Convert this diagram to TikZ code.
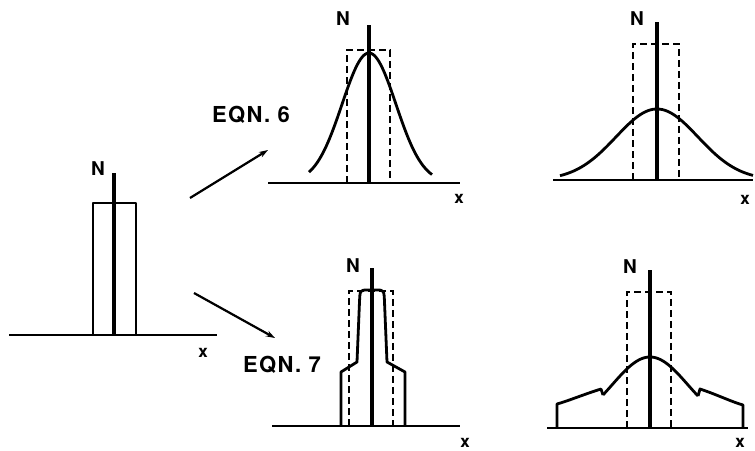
\documentclass[tikz,border=0pt]{standalone}
\usepackage{fontspec}
\setmainfont{TeX Gyre Heros}
\usepackage{tikz}
\usetikzlibrary{arrows.meta}

\tikzset{
    axisline/.style={line width=3.2pt},
    baseline/.style={line width=2.6pt},
    boxline/.style={line width=2.6pt,dash pattern=on 7pt off 4pt},
    curveline/.style={line width=2.8pt,line join=round},
    lbl/.style={font=\fontsize{19}{19}\selectfont\bfseries,inner sep=0pt},
    xlbl/.style={font=\fontsize{17}{17}\selectfont\bfseries,inner sep=0pt},
    eqn/.style={font=\fontsize{22}{22}\selectfont\bfseries\addfontfeatures{LetterSpace=6},inner sep=0pt}
}

\begin{document}
\begin{tikzpicture}[x=1pt,y=1pt]
    \useasboundingbox (0,0) rectangle (755,450);

    % starting distribution
    \begin{scope}[shift={(114,115)}]
        \draw [baseline](-105,0)--(103,0);
        \draw [curveline](-21,0)--(-21,132)--(22,132)--(22,0);
        \draw [axisline](0,0)--(0,162);
        \node [lbl] (N1) at (-16,166) {N};
        \node [xlbl] (X1) at (89,-18) {x};
    \end{scope}

    % eqn 6, first step
    \begin{scope}[shift={(369,267)}]
        \draw [baseline](-101,0)--(91,0);
        \draw [boxline](-22,0)--(-22,133)--(21,133)--(21,0);
        \draw [curveline] plot[domain=-60:63,samples=80,smooth] (\x,{130*exp(-(\x*\x)/1450)});
        \draw [axisline](0,0)--(0,158);
        \node [lbl] (N2) at (-26,164) {N};
        \node [xlbl] (X2) at (90,-16) {x};
    \end{scope}

    % eqn 6, later
    \begin{scope}[shift={(657,270)}]
        \draw [baseline](-104,0)--(96,0);
        \draw [boxline](-24,0)--(-24,136)--(22,136)--(22,0);
        \draw [curveline] plot[domain=-97:96,samples=80,smooth] (\x,{71*exp(-(\x*\x)/3362)});
        \draw [axisline](0,0)--(0,158);
        \node [lbl] (N3) at (-20,161) {N};
        \node [xlbl] (X3) at (88,-20) {x};
    \end{scope}

    % eqn 7, first step
    \begin{scope}[shift={(372,24)}]
        \draw [baseline](-100,0)--(88,0);
        \draw [boxline](-23,0)--(-23,135)--(21,135)--(21,0);
        \draw [curveline](-31,0)--(-31,54)--(-15,64)--(-12.5,124)
            .. controls (-12,136) .. (-4,136)--(4,136)
            .. controls (12,136) .. (12.5,124)--(15,64)--(33,54)--(33,0);
        \draw [axisline](0,0)--(0,158);
        \node [lbl] (N4) at (-19,160) {N};
        \node [xlbl] (X4) at (93,-17) {x};
    \end{scope}

    % eqn 7, later
    \begin{scope}[shift={(650,22)}]
        \draw [baseline](-103,0)--(98,0);
        \draw [boxline](-23,0)--(-23,136)--(21,136)--(21,0);
        \draw [curveline] plot[domain=-47:48,samples=60,smooth] (\x,{71*exp(-(\x*\x)/2888)});
        \draw [curveline](-47,33)--(-49,39) .. controls (-68,33) and (-82,27) .. (-93,24)--(-93,0);
        \draw [curveline](48,32)--(50,39) .. controls (68,33) and (82,26) .. (93,23)--(93,0);
        \draw [axisline](0,0)--(0,158);
        \node [lbl] (N5) at (-20,161) {N};
        \node [xlbl] (X5) at (90,-15) {x};
    \end{scope}

    % arrows
    \coordinate (A1) at (190,252);
    \coordinate (A2) at (268,300);
    \coordinate (B1) at (194,157);
    \coordinate (B2) at (275,112);
    \draw [line width=2.2pt,-{Stealth[length=9pt,width=6pt]}](A1)--(A2);
    \draw [line width=2.2pt,-{Stealth[length=9pt,width=6pt]}](B1)--(B2);
    \node [eqn] (E6) at (251,335) {EQN. 6};
    \node [eqn] (E7) at (282,85) {EQN. 7};

\end{tikzpicture}
\end{document}
